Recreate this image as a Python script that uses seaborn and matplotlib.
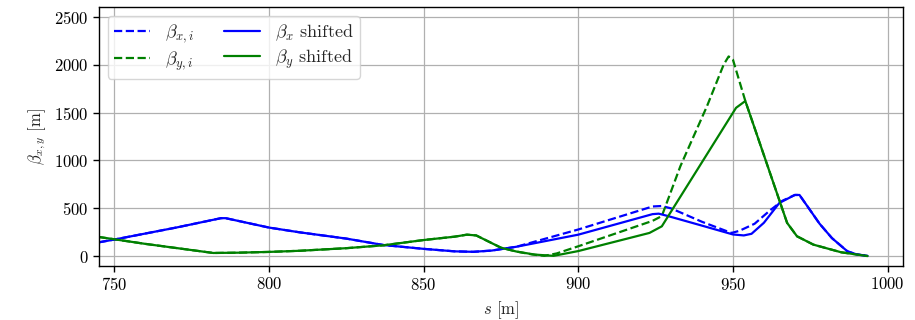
import matplotlib
matplotlib.use("Agg")
import matplotlib.pyplot as plt
import seaborn as sns
import pandas as pd

# --- data ---------------------------------------------------------------
s_x = [745, 750, 770, 784.5, 786, 800, 810, 825, 837, 850, 860, 866, 872,
       880, 900, 924, 926, 929, 940, 950, 953.5, 956, 960, 965, 970, 971.5,
       974, 978, 982, 987, 990, 993.5]
beta_x = [146, 175, 300, 398, 398, 300, 250, 185, 118, 78, 52, 47, 60,
          100, 226, 440, 445, 420, 320, 228, 218, 235, 350, 557, 640, 640,
          525, 340, 190, 52, 20, 5]

s_y = [745, 760, 782, 790, 800, 810, 825, 837, 850, 860, 864, 867, 875,
       880, 886, 892, 900, 923, 927, 951, 954, 967.5, 970.7, 976, 985,
       993.5]
beta_y = [202, 130, 35, 38, 46, 58, 85, 115, 170, 205, 226, 218, 90,
          50, 18, 5, 55, 244, 313, 1549, 1620, 349, 209, 122, 42, 3]

s_xi = [745, 750, 770, 784.5, 786, 800, 810, 825, 837, 850, 860, 866, 872,
        880, 900, 924, 927, 930, 940, 949.5, 952, 957, 962, 966, 970, 971.5,
        974, 978, 982, 987, 990, 993.5]
beta_xi = [146, 175, 300, 398, 398, 300, 250, 185, 118, 78, 52, 47, 60,
           100, 280, 520, 525, 500, 360, 244, 265, 340, 480, 580, 640, 640,
           525, 340, 190, 52, 20, 5]

s_yi = [745, 760, 782, 790, 800, 810, 825, 837, 850, 860, 864, 867, 875,
        880, 885, 889, 893, 900, 924, 927, 933, 941.6, 947, 948.6, 950, 954,
        967.5, 970.7, 976, 985, 993.5]
beta_yi = [202, 130, 35, 38, 46, 58, 85, 115, 170, 205, 226, 218, 90,
           50, 20, 5, 30, 105, 370, 420, 940, 1566, 2000, 2085, 2050, 1620,
           349, 209, 122, 42, 3]

labels = [r"$\beta_{x,i}$", r"$\beta_{y,i}$",
          r"$\beta_x$ shifted", r"$\beta_y$ shifted"]

# --- style --------------------------------------------------------------
sns.set_style("ticks")
plt.rcParams.update({
    "font.family": "serif",
    "font.serif": ["cmr10"],
    "mathtext.fontset": "cm",
    "axes.unicode_minus": False,
    "axes.formatter.use_mathtext": True,
    "axes.edgecolor": "black",
    "axes.linewidth": 1.0,
    "xtick.color": "black",
    "ytick.color": "black",
    "font.size": 12,
})

fig = plt.figure(figsize=(9.15, 3.2), dpi=100)
ax = fig.add_axes([0.108, 0.169, 0.879, 0.809])

df_xi = pd.DataFrame({"s": s_xi, "beta": beta_xi})
df_yi = pd.DataFrame({"s": s_yi, "beta": beta_yi})
df_x = pd.DataFrame({"s": s_x, "beta": beta_x})
df_y = pd.DataFrame({"s": s_y, "beta": beta_y})

sns.lineplot(data=df_xi, x="s", y="beta", ax=ax, color="blue", linestyle="--",
             lw=1.6, label=labels[0], sort=False, estimator=None)
sns.lineplot(data=df_yi, x="s", y="beta", ax=ax, color="green", linestyle="--",
             lw=1.6, label=labels[1], sort=False, estimator=None)
sns.lineplot(data=df_x, x="s", y="beta", ax=ax, color="blue",
             lw=1.6, label=labels[2], sort=False, estimator=None)
sns.lineplot(data=df_y, x="s", y="beta", ax=ax, color="green",
             lw=1.6, label=labels[3], sort=False, estimator=None)

ax.set_xlim(745, 1005)
ax.set_ylim(-100, 2600)
ax.set_xticks([750, 800, 850, 900, 950, 1000])
ax.set_yticks([0, 500, 1000, 1500, 2000, 2500])
ax.grid(True, color="#b0b0b0", linewidth=0.9)
ax.tick_params(direction="out", length=4, width=1, labelsize=12)
ax.set_xlabel(r"$s$ [m]", fontsize=12)
ax.set_ylabel(r"$\beta_{x,y}$ [m]", fontsize=12)

ax.legend(loc="upper left", ncol=2, fontsize=13, framealpha=0.8,
          fancybox=True, edgecolor="#cccccc", labelspacing=0.25,
          handlelength=2.0, borderpad=0.35, columnspacing=1.7)

fig.savefig("out.png", dpi=100)
